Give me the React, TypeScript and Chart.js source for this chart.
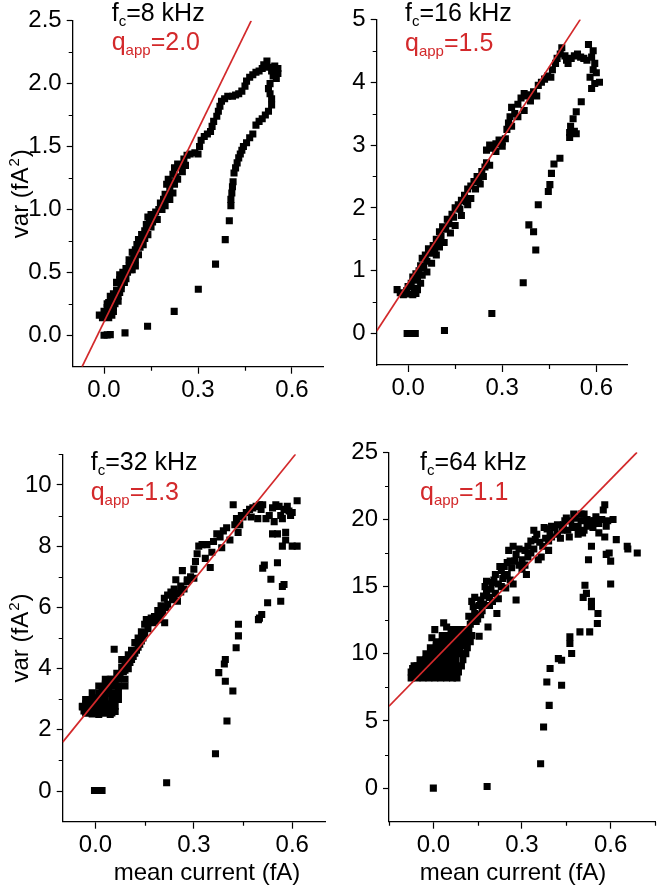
import React, { useEffect, useRef } from "react";
import { Chart, registerables } from "chart.js";

Chart.register(...registerables);

const FONT_FAMILY = "'Liberation Sans', Arial, Helvetica, sans-serif";
const RED = "#d3292b";

// ---------- tick values ----------
const xMajorTicks = [0, 0.3, 0.6];
const xMinorTicks = [0.15, 0.45];
const xMinorTicks64 = [-0.15, 0.15, 0.45, 0.75];

const yMajor8 = [0, 0.5, 1, 1.5, 2, 2.5];
const yMinor8 = [0.25, 0.75, 1.25, 1.75, 2.25];
const yMajor16 = [0, 1, 2, 3, 4, 5];
const yMinor16 = [0.5, 1.5, 2.5, 3.5, 4.5];
const yMajor32 = [0, 2, 4, 6, 8, 10];
const yMinor32 = [1, 3, 5, 7, 9, 11];
const yMajor64 = [0, 5, 10, 15, 20, 25];
const yMinor64 = [2.5, 7.5, 12.5, 17.5, 22.5];

// ---------- text ----------
const fcValues = ["8", "16", "32", "64"];
const qValues = ["2.0", "1.5", "1.3", "1.1"];
const yTitleMain = "var (fA";
const yTitleSup = "2";
const yTitleEnd = ")";
const xTitleText = "mean current (fA)";

// ---------- fitted lines (end points) ----------
const fit8X = [-0.07, 0.47];
const fit8Y = [-0.25, 2.5];
const fit16X = [-0.1, 0.549];
const fit16Y = [0.04, 5.0];
const fit32X = [-0.1, 0.61];
const fit32Y = [1.6, 11.0];
const fit64X = [-0.15, 0.689];
const fit64Y = [6.1, 25.0];

// ---------- data: [mean current, variance] ----------
const pts8: [number, number][] = [
  [-0.015, 0.16], [-0.005, 0.14], [0.005, 0.15], [0.015, 0.14], [0.025, 0.16], [0.0, 0.19], [0.01, 0.22],
  [0.02, 0.2], [0.03, 0.19], [0.015, 0.26], [0.025, 0.29], [0.035, 0.25], [0.03, 0.33], [0.04, 0.36],
  [0.045, 0.31], [0.04, 0.42], [0.05, 0.44], [0.055, 0.4], [0.06, 0.5], [0.065, 0.47], [0.07, 0.53],
  [0.08, 0.55], [0.085, 0.52], [0.09, 0.58], [0.095, 0.63], [0.1, 0.6], [0.1, 0.68], [0.105, 0.72],
  [0.11, 0.76], [0.12, 0.74], [0.12, 0.8], [0.13, 0.83], [0.135, 0.88], [0.14, 0.94], [0.145, 0.9],
  [0.15, 0.96], [0.16, 0.93], [0.165, 0.98], [0.175, 1.0], [0.18, 1.05], [0.19, 1.08], [0.195, 1.12],
  [0.2, 1.1], [0.2, 1.2], [0.205, 1.24], [0.21, 1.15], [0.215, 1.22], [0.22, 1.28], [0.225, 1.33],
  [0.23, 1.26], [0.235, 1.36], [0.245, 1.35], [0.255, 1.4], [0.265, 1.43], [0.275, 1.44], [0.29, 1.45],
  [0.3, 1.44], [0.305, 1.5], [0.31, 1.55], [0.32, 1.58], [0.33, 1.6], [0.34, 1.62], [0.345, 1.66],
  [0.35, 1.7], [0.36, 1.74], [0.365, 1.78], [0.37, 1.82], [0.375, 1.86], [0.385, 1.88], [0.395, 1.9],
  [0.41, 1.9], [0.42, 1.91], [0.43, 1.92], [0.44, 1.94], [0.45, 1.98], [0.455, 2.02], [0.465, 2.05],
  [0.475, 2.07], [0.485, 2.09], [0.495, 2.1], [0.505, 2.12], [0.51, 2.15], [0.52, 2.18], [0.525, 2.13],
  [0.535, 2.1], [0.545, 2.14], [0.555, 2.12], [0.555, 2.08], [0.55, 2.04], [0.54, 2.06], [0.53, 2.0],
  [0.525, 1.96], [0.53, 1.92], [0.535, 1.88],
  [0.03, 0.22], [0.045, 0.27], [0.05, 0.34], [0.055, 0.37], [0.065, 0.42], [0.07, 0.45], [0.075, 0.5],
  [0.09, 0.52], [0.1, 0.55], [0.11, 0.64], [0.115, 0.7], [0.125, 0.72], [0.13, 0.77], [0.14, 0.8],
  [0.15, 0.86], [0.155, 0.9], [0.17, 0.92], [0.185, 1.0], [0.195, 1.03], [0.21, 1.08], [0.22, 1.13],
  [0.225, 1.2], [0.235, 1.24], [0.25, 1.3], [0.26, 1.35], [0.02, 0.31], [0.01, 0.25], [0.05, 0.48],
  [0.08, 0.6], [0.09, 0.66],
  [0.535, 1.83], [0.525, 1.78], [0.515, 1.75], [0.505, 1.72], [0.495, 1.7], [0.485, 1.67], [0.475, 1.6],
  [0.465, 1.57], [0.455, 1.53], [0.445, 1.5], [0.44, 1.47], [0.435, 1.44], [0.43, 1.41], [0.425, 1.37],
  [0.42, 1.33], [0.415, 1.29], [0.412, 1.22], [0.41, 1.18], [0.408, 1.13], [0.405, 1.08], [0.405, 1.03],
  [0.4, 0.91], [0.387, 0.76], [0.356, 0.565], [0.301, 0.366], [0.224, 0.19], [0.139, 0.072],
  [0.067, 0.019], [0.02, 0.005], [0.01, 0.003], [0.0, 0.0],
];

const pts16: [number, number][] = [
  [-0.035, 0.7], [-0.025, 0.65], [-0.015, 0.62], [-0.005, 0.68], [0.005, 0.63], [0.015, 0.62],
  [0.025, 0.64], [0.0, 0.75], [0.01, 0.8], [0.02, 0.72], [0.03, 0.7], [0.015, 0.9], [0.025, 0.95],
  [0.03, 0.85], [0.035, 1.0], [0.04, 1.08], [0.045, 0.93], [0.05, 1.05], [0.045, 1.2], [0.055, 1.25],
  [0.06, 1.15], [0.065, 1.35], [0.07, 1.28], [0.08, 1.4], [0.085, 1.32], [0.09, 1.5], [0.095, 1.45],
  [0.1, 1.62], [0.105, 1.55], [0.11, 1.7], [0.12, 1.66], [0.125, 1.82], [0.13, 1.75], [0.14, 1.9],
  [0.145, 1.85], [0.15, 2.0], [0.16, 2.05], [0.165, 1.98], [0.17, 2.12], [0.18, 2.2], [0.185, 2.1],
  [0.19, 2.3], [0.2, 2.35], [0.21, 2.42], [0.22, 2.5], [0.225, 2.45], [0.235, 2.58], [0.245, 2.65],
  [0.25, 2.72], [0.25, 2.92], [0.26, 3.0], [0.27, 2.95], [0.28, 3.02], [0.29, 3.08], [0.3, 3.05],
  [0.31, 3.1], [0.315, 3.25], [0.32, 3.35], [0.325, 3.45], [0.33, 3.6], [0.34, 3.5], [0.35, 3.65],
  [0.36, 3.75], [0.37, 3.82], [0.38, 3.78], [0.39, 3.8], [0.4, 3.85], [0.41, 3.78], [0.415, 3.95],
  [0.425, 4.0], [0.435, 4.05], [0.445, 4.1], [0.455, 4.08], [0.46, 4.2], [0.47, 4.3], [0.475, 4.38],
  [0.485, 4.45], [0.49, 4.55], [0.5, 4.42], [0.505, 4.35], [0.51, 4.3], [0.52, 4.38], [0.53, 4.42],
  [0.54, 4.45], [0.55, 4.4], [0.56, 4.38], [0.57, 4.35], [0.575, 4.6], [0.59, 4.5], [0.585, 4.4],
  [0.595, 4.3], [0.59, 4.2], [0.6, 4.15], [0.58, 4.08], [0.61, 4.0], [0.595, 3.98], [0.585, 3.9],
  [0.04, 0.8], [0.06, 0.98], [0.075, 1.12], [0.09, 1.25], [0.1, 1.38], [0.115, 1.45], [0.135, 1.6],
  [0.15, 1.72], [0.17, 1.88], [0.19, 2.05], [0.2, 2.15], [0.215, 2.3], [0.23, 2.38], [0.24, 2.5],
  [0.26, 2.68], [0.28, 2.9], [0.3, 2.98], [0.33, 3.3], [0.35, 3.45], [0.37, 3.55], [0.39, 3.7],
  [0.552, 3.69], [0.536, 3.53], [0.526, 3.42], [0.518, 3.3], [0.515, 3.2], [0.53, 3.22], [0.536, 3.18],
  [0.515, 3.12], [0.484, 2.79], [0.465, 2.7], [0.457, 2.55], [0.452, 2.37], [0.447, 2.26], [0.415, 2.05],
  [0.385, 1.73], [0.4, 1.62], [0.407, 1.33], [0.367, 0.81], [0.267, 0.32], [0.116, 0.05],
  [-0.003, 0], [0.013, 0], [0.023, 0],
];

const pts32: [number, number][] = [
  [-0.04, 2.75], [-0.035, 2.62], [-0.03, 2.85], [-0.025, 2.55], [-0.02, 2.7], [-0.015, 2.95],
  [-0.01, 2.52], [-0.005, 2.8], [0.0, 2.6], [0.005, 3.05], [0.01, 2.5], [0.015, 2.75], [0.02, 2.9],
  [0.025, 2.55], [0.03, 3.2], [0.035, 2.65], [0.04, 2.85], [0.045, 2.5], [0.05, 2.75], [0.055, 3.0],
  [0.06, 2.6], [0.02, 3.35], [0.03, 3.5], [0.04, 3.3], [0.045, 3.65], [0.05, 3.45], [0.055, 3.2],
  [-0.03, 2.55], [-0.01, 2.55], [0.01, 2.55], [0.03, 2.55], [0.05, 2.55],
  [-0.04, 2.77], [-0.02, 2.77], [0.0, 2.77], [0.02, 2.77], [0.04, 2.77], [0.06, 2.77],
  [-0.03, 2.99], [-0.01, 2.99], [0.01, 2.99], [0.03, 2.99], [0.05, 2.99], [0.07, 2.99],
  [-0.01, 3.21], [0.01, 3.21], [0.03, 3.21], [0.05, 3.21], [0.07, 3.21],
  [0.01, 3.43], [0.03, 3.43], [0.05, 3.43], [0.07, 3.43], [0.09, 3.43],
  [0.03, 3.65], [0.05, 3.65], [0.07, 3.65], [0.09, 3.65],
  [0.06, 3.55], [0.057, 4.63], [0.065, 3.85], [0.07, 3.4], [0.075, 3.7], [0.08, 4.05], [0.085, 3.9],
  [0.09, 4.25], [0.095, 4.1], [0.1, 4.45], [0.105, 4.2], [0.11, 4.6], [0.115, 4.4], [0.12, 4.85],
  [0.125, 4.6], [0.13, 5.0], [0.135, 4.8], [0.14, 5.2], [0.145, 5.0], [0.15, 5.45], [0.155, 5.6],
  [0.16, 5.3], [0.17, 5.65], [0.175, 5.5], [0.18, 5.7], [0.19, 5.9], [0.195, 5.6], [0.2, 6.05],
  [0.205, 5.85], [0.21, 6.3], [0.215, 6.0], [0.22, 6.4], [0.23, 6.5], [0.235, 6.25], [0.24, 6.6],
  [0.245, 6.9], [0.25, 6.45], [0.26, 6.7], [0.265, 7.2], [0.27, 6.6], [0.28, 6.85], [0.29, 7.0],
  [0.08, 4.3], [0.09, 3.95], [0.1, 4.0], [0.11, 4.3], [0.12, 4.5], [0.13, 4.7], [0.14, 4.9],
  [0.15, 5.15], [0.16, 5.5], [0.18, 5.55], [0.2, 5.8], [0.211, 5.5], [0.22, 6.1], [0.24, 6.35],
  [0.25, 6.2], [0.26, 6.5], [0.28, 6.9], [0.3, 6.95],
  [0.3, 7.25], [0.305, 7.5], [0.31, 7.75], [0.315, 8.0], [0.325, 8.05], [0.335, 7.6], [0.34, 8.05],
  [0.35, 7.3], [0.355, 7.8], [0.36, 8.15], [0.37, 8.4], [0.38, 8.3], [0.385, 7.95], [0.39, 8.5],
  [0.4, 8.6], [0.41, 8.2], [0.42, 9.35], [0.425, 8.7], [0.43, 8.9], [0.435, 8.45], [0.44, 8.7],
  [0.445, 9.0], [0.45, 8.95], [0.46, 9.1], [0.47, 9.2], [0.475, 8.95], [0.48, 9.25], [0.49, 9.3],
  [0.495, 8.9], [0.5, 9.35], [0.505, 9.2], [0.51, 9.35],
  [0.52, 8.9], [0.53, 9.0], [0.54, 9.25], [0.545, 8.8], [0.55, 9.35], [0.555, 8.4], [0.56, 9.3],
  [0.565, 9.0], [0.57, 8.9], [0.575, 9.2], [0.58, 8.45], [0.585, 9.3], [0.59, 9.15], [0.595, 9.0],
  [0.6, 9.1], [0.615, 9.48], [0.57, 8.0], [0.58, 8.2], [0.6, 8.0], [0.615, 8.0], [0.54, 8.4],
  [0.555, 7.46], [0.575, 6.75], [0.57, 6.68], [0.565, 6.2],
  [0.51, 7.28], [0.515, 7.38], [0.535, 6.92], [0.525, 6.15], [0.507, 5.77], [0.5, 5.65], [0.497, 5.6],
  [0.436, 5.45], [0.436, 5.07], [0.429, 4.68], [0.396, 4.3], [0.393, 4.15], [0.376, 3.87], [0.396, 3.59],
  [0.419, 3.27], [0.401, 2.29], [0.366, 1.22], [0.217, 0.27], [-0.003, 0.02], [0.008, 0.02], [0.02, 0.02],
];

const pts64: [number, number][] = [
  [-0.075, 8.2], [-0.055, 8.2], [-0.035, 8.2], [-0.015, 8.2], [0.005, 8.2], [0.025, 8.2], [0.045, 8.2],
  [0.065, 8.2], [0.08, 8.2],
  [-0.075, 8.65], [-0.055, 8.65], [-0.035, 8.65], [-0.015, 8.65], [0.005, 8.65], [0.025, 8.65],
  [0.045, 8.65], [0.065, 8.65], [0.085, 8.65],
  [-0.065, 9.1], [-0.045, 9.1], [-0.025, 9.1], [-0.005, 9.1], [0.015, 9.1], [0.035, 9.1], [0.055, 9.1],
  [0.075, 9.1], [0.095, 9.1],
  [-0.045, 9.55], [-0.025, 9.55], [-0.005, 9.55], [0.015, 9.55], [0.035, 9.55], [0.055, 9.55],
  [0.075, 9.55], [0.1, 9.55],
  [-0.025, 10.0], [-0.005, 10.0], [0.015, 10.0], [0.035, 10.0], [0.055, 10.0], [0.075, 10.0],
  [0.095, 10.0], [0.11, 10.0],
  [-0.01, 10.45], [0.01, 10.45], [0.03, 10.45], [0.05, 10.45], [0.07, 10.45], [0.09, 10.45],
  [0.115, 10.45],
  [0.01, 10.9], [0.03, 10.9], [0.05, 10.9], [0.07, 10.9], [0.09, 10.9], [0.11, 10.9], [0.125, 10.9],
  [0.03, 11.35], [0.05, 11.35], [0.07, 11.35], [0.09, 11.35], [0.11, 11.35], [0.13, 11.35],
  [0.06, 11.8], [0.08, 11.8], [0.1, 11.8], [0.12, 11.8],
  [-0.07, 8.9], [-0.055, 9.1], [-0.04, 9.3], [-0.025, 9.6],
  [-0.005, 10.2], [0.01, 10.6], [0.05, 10.8], [0.1, 10.6],
  [-0.005, 11.2], [0.005, 11.8], [0.035, 12.3], [0.045, 12.0], [0.125, 12.2], [0.13, 12.7], [0.135, 13.5],
  [0.14, 13.0], [0.145, 12.4], [0.155, 11.3], [0.155, 13.6], [0.16, 14.0], [0.165, 13.2], [0.17, 14.3],
  [0.175, 15.0], [0.18, 14.6], [0.185, 12.0], [0.19, 13.6], [0.195, 14.8], [0.2, 15.3], [0.205, 15.5],
  [0.21, 14.5], [0.215, 13.0], [0.22, 15.2], [0.23, 16.2], [0.235, 15.6], [0.24, 16.5], [0.245, 14.9],
  [0.25, 16.8], [0.255, 17.7], [0.26, 15.5], [0.265, 16.4], [0.27, 18.0], [0.275, 16.9], [0.28, 14.0],
  [0.29, 16.6], [0.3, 17.0], [0.31, 17.7], [0.315, 15.9], [0.32, 17.2], [0.33, 17.5], [0.34, 19.2],
  [0.345, 18.5], [0.355, 17.0], [0.365, 17.2], [0.375, 19.4], [0.38, 18.6], [0.39, 17.7], [0.395, 19.0],
  [0.4, 18.7], [0.41, 19.4], [0.42, 18.9], [0.435, 19.2], [0.445, 19.9], [0.455, 19.2], [0.465, 19.9],
  [0.475, 20.4], [0.48, 19.5], [0.49, 19.4], [0.5, 19.9], [0.505, 19.0], [0.51, 20.4], [0.52, 19.5],
  [0.53, 19.6], [0.535, 18.0], [0.545, 19.9], [0.525, 17.0], [0.56, 19.7], [0.57, 20.0], [0.575, 20.7],
  [0.58, 21.1], [0.585, 19.5], [0.59, 19.9], [0.608, 20.0], [0.58, 18.7], [0.595, 17.5], [0.585, 17.4],
  [0.6, 16.9], [0.619, 18.5], [0.6, 15.2], [0.656, 18.0], [0.658, 17.8], [0.69, 17.5],
  [0.12, 12.8], [0.13, 13.9], [0.14, 14.2], [0.15, 12.6], [0.16, 12.9], [0.17, 13.7], [0.18, 15.4],
  [0.19, 14.2], [0.2, 13.9], [0.21, 15.9], [0.22, 14.1], [0.225, 16.5], [0.23, 15.0], [0.24, 15.8],
  [0.25, 15.9], [0.26, 16.9], [0.27, 15.2], [0.28, 17.4], [0.29, 17.8], [0.3, 16.3], [0.31, 16.6],
  [0.32, 18.0], [0.33, 18.4], [0.34, 17.8], [0.35, 18.9], [0.36, 18.3], [0.37, 18.0], [0.385, 19.3],
  [0.39, 18.4], [0.4, 19.5], [0.42, 19.6], [0.43, 18.6], [0.44, 19.6], [0.45, 20.1], [0.46, 18.7],
  [0.47, 19.4], [0.48, 20.1], [0.49, 18.9], [0.5, 20.4], [0.51, 19.2], [0.52, 20.0], [0.53, 19.9],
  [0.54, 19.4], [0.55, 20.2], [0.56, 19.0],
  [0.513, 15.1], [0.518, 14.5], [0.507, 14.2], [0.535, 13.9], [0.535, 13.5], [0.557, 13.0], [0.555, 12.25],
  [0.529, 11.63], [0.496, 11.63], [0.468, 10.02], [0.462, 10.76], [0.462, 11.26], [0.434, 9.52],
  [0.423, 9.64], [0.395, 8.9], [0.384, 7.9], [0.434, 7.66], [0.392, 6.16], [0.373, 4.55], [0.363, 1.81],
  [0.182, 0.12], [0.0, 0.0],
];

type PanelCfg = {
  box: { left: number; top: number; w: number; h: number };
  yAxisW: number;
  xAxisH: number;
  padTop: number;
  padRight: number;
  xMin: number;
  xMax: number;
  yMin: number;
  yMax: number;
  yMajor: number[];
  yMinor: number[];
  xMinor: number[];
  yDecimals: number;
  yTitle: boolean;
  xTitle: boolean;
  xTitleCx: number;
  fc: string;
  q: string;
  labelDx: number;
  labelDy1: number;
  labelDy2: number;
  pts: [number, number][];
  fitX: number[];
  fitY: number[];
};

const panels: PanelCfg[] = [
  {
    box: { left: 0, top: 0, w: 330, h: 420 }, yAxisW: 72.7, xAxisH: 53.3, padTop: 20.7, padRight: 6.7,
    xMin: -0.1, xMax: 0.7, yMin: -0.25, yMax: 2.5, yMajor: yMajor8, yMinor: yMinor8, xMinor: xMinorTicks,
    yDecimals: 1, yTitle: true, xTitle: false, xTitleCx: 0, fc: fcValues[0], q: qValues[0],
    labelDx: 39, labelDy1: 0, labelDy2: 29.5, pts: pts8, fitX: fit8X, fitY: fit8Y,
  },
  {
    box: { left: 330, top: 0, w: 330, h: 420 }, yAxisW: 46.7, xAxisH: 55, padTop: 19, padRight: 32.3,
    xMin: -0.1, xMax: 0.7, yMin: -0.5, yMax: 5, yMajor: yMajor16, yMinor: yMinor16, xMinor: xMinorTicks,
    yDecimals: 0, yTitle: false, xTitle: false, xTitleCx: 0, fc: fcValues[1], q: qValues[1],
    labelDx: 28.3, labelDy1: 1.7, labelDy2: 31.7, pts: pts16, fitX: fit16X, fitY: fit16Y,
  },
  {
    box: { left: 0, top: 420, w: 330, h: 466 }, yAxisW: 62.7, xAxisH: 64.3, padTop: 34.3, padRight: 0,
    xMin: -0.1, xMax: 0.7, yMin: -1, yMax: 11, yMajor: yMajor32, yMinor: yMinor32, xMinor: xMinorTicks,
    yDecimals: 0, yTitle: true, xTitle: true, xTitleCx: 207, fc: fcValues[2], q: qValues[2],
    labelDx: 28, labelDy1: 15.7, labelDy2: 45.7, pts: pts32, fitX: fit32X, fitY: fit32Y,
  },
  {
    box: { left: 330, top: 420, w: 330, h: 466 }, yAxisW: 59, xAxisH: 64.3, padTop: 32.3, padRight: 2.3,
    xMin: -0.15, xMax: 0.75, yMin: -2.5, yMax: 25, yMajor: yMajor64, yMinor: yMinor64, xMinor: xMinorTicks64,
    yDecimals: 0, yTitle: false, xTitle: true, xTitleCx: 183, fc: fcValues[3], q: qValues[3],
    labelDx: 31, labelDy1: 17.7, labelDy2: 47.7, pts: pts64, fitX: fit64X, fitY: fit64Y,
  },
];

function font(size: number) {
  return { family: FONT_FAMILY, size };
}

function Panel({ cfg }: { cfg: PanelCfg }) {
  const ref = useRef<HTMLCanvasElement>(null);

  useEffect(() => {
    const canvas = ref.current!;
    const decorPlugin = {
      id: "decor",
      afterDraw(chart: any) {
        const ctx = chart.ctx as CanvasRenderingContext2D;
        const area = chart.chartArea;
        const xs = chart.scales.x;
        const ys = chart.scales.y;
        ctx.save();
        // minor ticks
        ctx.strokeStyle = "#000";
        ctx.lineWidth = 1.2;
        ctx.beginPath();
        cfg.xMinor.forEach((v) => {
          const px = Math.round(xs.getPixelForValue(v)) + 0.5;
          ctx.moveTo(px, area.bottom);
          ctx.lineTo(px, area.bottom + 4);
        });
        cfg.yMinor.forEach((v) => {
          const py = Math.round(ys.getPixelForValue(v)) + 0.5;
          ctx.moveTo(area.left, py);
          ctx.lineTo(area.left - 4, py);
        });
        ctx.stroke();

        const big = `25px ${FONT_FAMILY}`;
        const axisFont = `24px ${FONT_FAMILY}`;
        const small = `15px ${FONT_FAMILY}`;
        ctx.textBaseline = "alphabetic";
        ctx.textAlign = "left";

        // annotation text
        const x0 = area.left + cfg.labelDx;
        const y1 = area.top + cfg.labelDy1;
        const y2 = area.top + cfg.labelDy2;

        ctx.fillStyle = "#000";
        let x = x0;
        ctx.font = big;
        ctx.fillText("f", x, y1);
        x += ctx.measureText("f").width;
        ctx.font = small;
        ctx.fillText("c", x, y1 + 5);
        x += ctx.measureText("c").width;
        ctx.font = big;
        ctx.fillText(`=${cfg.fc} kHz`, x, y1);

        ctx.fillStyle = RED;
        x = x0;
        ctx.font = big;
        ctx.fillText("q", x, y2);
        x += ctx.measureText("q").width;
        ctx.font = small;
        ctx.fillText("app", x, y2 + 5);
        x += ctx.measureText("app").width;
        ctx.font = big;
        ctx.fillText(`=${cfg.q}`, x, y2);

        ctx.fillStyle = "#000";
        // y axis title (rotated, with superscript)
        if (cfg.yTitle) {
          ctx.save();
          const cy = (area.top + area.bottom) / 2;
          ctx.translate(27.5, cy);
          ctx.rotate(-Math.PI / 2);
          ctx.font = axisFont;
          const w1 = ctx.measureText(yTitleMain).width;
          const w3 = ctx.measureText(yTitleEnd).width;
          ctx.font = small;
          const w2 = ctx.measureText(yTitleSup).width + 2;
          let tx = -(w1 + w2 + w3) / 2;
          ctx.font = axisFont;
          ctx.fillText(yTitleMain, tx, 0);
          tx += w1 + 1;
          ctx.font = small;
          ctx.fillText(yTitleSup, tx, -9);
          tx += w2 - 1;
          ctx.font = axisFont;
          ctx.fillText(yTitleEnd, tx, 0);
          ctx.restore();
        }
        // x axis title
        if (cfg.xTitle) {
          ctx.font = axisFont;
          ctx.textAlign = "center";
          ctx.fillText(xTitleText, cfg.xTitleCx, chart.height - 6.5);
        }
        ctx.restore();
      },
    };

    const chart = new Chart(canvas, {
      type: "scatter",
      data: {
        datasets: [
          {
            data: cfg.fitX.map((x, i) => ({ x, y: cfg.fitY[i] })),
            showLine: true,
            borderColor: RED,
            borderWidth: 1.7,
            pointRadius: 0,
            fill: false,
          } as any,
          {
            data: cfg.pts.map(([x, y]) => ({ x, y })),
            pointStyle: "rect",
            pointRadius: 5,
            pointBackgroundColor: "#000",
            pointBorderColor: "#000",
            pointBorderWidth: 0,
            showLine: false,
          } as any,
        ],
      },
      options: {
        responsive: false,
        animation: false,
        events: [],
        layout: { padding: { left: 0, right: cfg.padRight, top: cfg.padTop, bottom: 0 } },
        plugins: { legend: { display: false }, tooltip: { enabled: false } },
        scales: {
          x: {
            type: "linear",
            position: "bottom",
            min: cfg.xMin,
            max: cfg.xMax,
            afterBuildTicks: (s: any) => {
              s.ticks = xMajorTicks.map((v) => ({ value: v }));
            },
            afterFit: (s: any) => {
              s.height = cfg.xAxisH;
            },
            ticks: {
              callback: (v: any) => Number(v).toFixed(1),
              font: font(24),
              color: "#000",
              padding: 2,
              maxRotation: 0,
              autoSkip: false,
            },
            grid: {
              drawOnChartArea: false,
              drawTicks: true,
              tickLength: 7,
              color: "#000",
              tickColor: "#000",
              tickWidth: 1.2,
            },
            border: { display: true, color: "#000", width: 1.3 },
            title: { display: false },
          },
          y: {
            type: "linear",
            position: "left",
            min: cfg.yMin,
            max: cfg.yMax,
            afterBuildTicks: (s: any) => {
              s.ticks = cfg.yMajor.map((v) => ({ value: v }));
            },
            afterFit: (s: any) => {
              s.width = cfg.yAxisW;
            },
            ticks: {
              callback: (v: any) => Number(v).toFixed(cfg.yDecimals),
              font: font(24),
              color: "#000",
              padding: 5,
              autoSkip: false,
            },
            grid: {
              drawOnChartArea: false,
              drawTicks: true,
              tickLength: 6,
              color: "#000",
              tickColor: "#000",
              tickWidth: 1.2,
            },
            border: { display: true, color: "#000", width: 1.3 },
            title: { display: false },
          },
        },
      } as any,
      plugins: [decorPlugin],
    });
    return () => chart.destroy();
  }, [cfg]);

  return (
    <canvas
      ref={ref}
      width={cfg.box.w}
      height={cfg.box.h}
      style={{
        position: "absolute",
        left: cfg.box.left,
        top: cfg.box.top,
        width: cfg.box.w,
        height: cfg.box.h,
        display: "block",
      }}
    />
  );
}

export default function App() {
  return (
    <div
      style={{
        position: "absolute",
        left: 0,
        top: 0,
        width: 660,
        height: 886,
        background: "#fff",
        overflow: "hidden",
      }}
    >
      {panels.map((p, i) => (
        <Panel key={i} cfg={p} />
      ))}
    </div>
  );
}
